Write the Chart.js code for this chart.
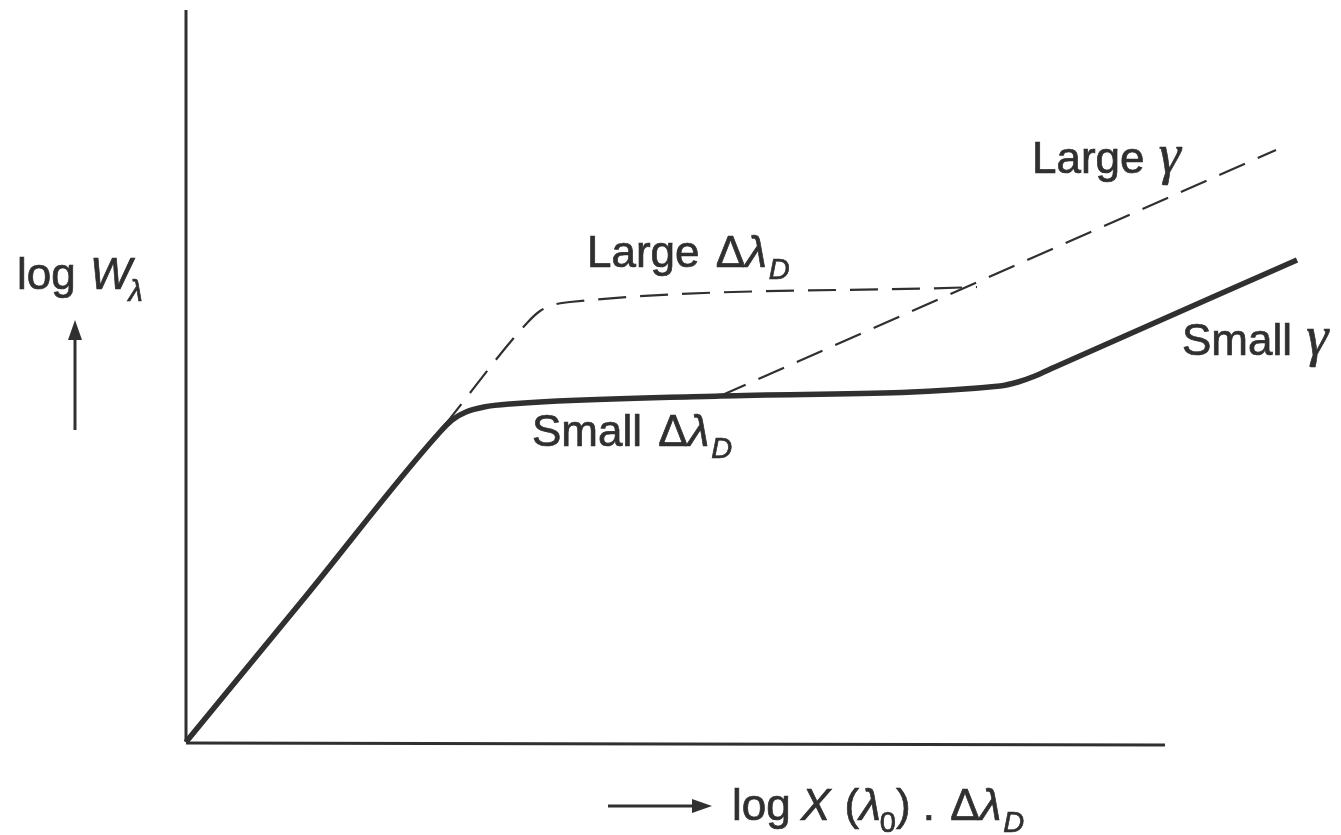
<!DOCTYPE html>
<html>
<head>
<meta charset="utf-8">
<script src="https://cdn.jsdelivr.net/npm/chart.js@4.4.1/dist/chart.umd.min.js"></script>
<style>
  html, body { margin: 0; padding: 0; background: #fff; }
  #wrap { width: 1341px; height: 835px; }
</style>
</head>
<body>
<div id="wrap"><canvas id="c" width="1341" height="835"></canvas></div>
<script>
// curve of growth, schematic (log units, origin at axis corner)
const solidX = [0, 1.20, 2.54, 2.66, 2.80, 2.98, 3.24, 5.34, 8.14, 8.32, 8.49, 8.69, 11.11];
const solidY = [0, 1.46, 3.10, 3.22, 3.30, 3.35, 3.38, 3.46, 3.56, 3.60, 3.66, 3.75, 4.82];

// large Doppler width branch
const dopplerX = [2.58, 3.42, 3.54, 3.67, 3.84, 7.91];
const dopplerY = [3.16, 4.20, 4.31, 4.37, 4.40, 4.55];

// large damping branch
const dampX = [5.34, 10.90];
const dampY = [3.46, 5.92];

// axis extents
const axisXEnd = 9.79;
const axisYEnd = 7.32;

const INK = '#303030';
const SANS = '"Liberation Sans", Arial, sans-serif';
const SERIF = '"Liberation Serif", "Times New Roman", serif';

const toPts = (xs, ys) => xs.map((x, i) => ({ x: x, y: ys[i] }));

// label made of runs {t, it, sub, serif, gap}, drawn left to right
function drawRuns(ctx, x, y, runs) {
    const size = 44;
    let cx = x;
    runs.forEach(r => {
        const s = r.sub ? 29 : (r.serif ? 56 : size);
        ctx.font = (r.it ? 'italic ' : '') + s + 'px ' + (r.serif ? SERIF : SANS);
        const yy = y + (r.sub ? 12 : 0);
        ctx.fillText(r.t, cx, yy);
        ctx.strokeText(r.t, cx, yy);
        cx += ctx.measureText(r.t).width + (r.gap || 0);
    });
}

function arrow(ctx, x1, y1, x2, y2) {
    const a = Math.atan2(y2 - y1, x2 - x1);
    const len = 20, w = 7;
    ctx.beginPath();
    ctx.moveTo(x1, y1);
    ctx.lineTo(x2 - Math.cos(a) * len * 0.8, y2 - Math.sin(a) * len * 0.8);
    ctx.lineWidth = 3;
    ctx.stroke();
    ctx.beginPath();
    ctx.moveTo(x2, y2);
    ctx.lineTo(x2 - Math.cos(a) * len + Math.sin(a) * w, y2 - Math.sin(a) * len - Math.cos(a) * w);
    ctx.lineTo(x2 - Math.cos(a) * len - Math.sin(a) * w, y2 - Math.sin(a) * len + Math.cos(a) * w);
    ctx.closePath();
    ctx.fill();
}

const labels = {
    id: 'labels',
    afterDraw(chart) {
        const ctx = chart.ctx;
        ctx.save();
        ctx.fillStyle = INK;
        ctx.strokeStyle = INK;
        ctx.textBaseline = 'alphabetic';
        ctx.textAlign = 'left';

        arrow(ctx, 75, 430, 75, 320);
        arrow(ctx, 608, 806, 712, 806);

        ctx.lineWidth = 0.7;
        drawRuns(ctx, 17, 289, [{ t: 'log ', gap: 2 }, { t: 'W', it: true, gap: -3 }, { t: 'λ', it: true, sub: true }]);
        drawRuns(ctx, 587, 267, [{ t: 'Large ', gap: 4 }, { t: 'Δ' }, { t: 'λ', it: true, gap: 2 }, { t: 'D', it: true, sub: true }]);
        drawRuns(ctx, 532, 446, [{ t: 'Small ', gap: 4 }, { t: 'Δ' }, { t: 'λ', it: true, gap: 2 }, { t: 'D', it: true, sub: true }]);
        drawRuns(ctx, 1032, 173, [{ t: 'Large ', gap: 2 }, { t: 'γ', it: true, serif: true }]);
        drawRuns(ctx, 1182, 355, [{ t: 'Small ', gap: 2 }, { t: 'γ', it: true, serif: true }]);
        drawRuns(ctx, 732, 820, [
            { t: 'log ', gap: -2 }, { t: 'X', it: true, gap: 2 }, { t: ' (' }, { t: 'λ', it: true, gap: -1 },
            { t: '0', sub: true }, { t: ') . ', gap: 3 }, { t: 'Δ' }, { t: 'λ', it: true, gap: 2 }, { t: 'D', it: true, sub: true }
        ]);
        ctx.restore();
    }
};

new Chart(document.getElementById('c'), {
    type: 'line',
    data: {
        datasets: [
            {
                data: [{ x: 0, y: 0 }, { x: 0, y: axisYEnd }],
                borderColor: INK, borderWidth: 3, pointRadius: 0
            },
            {
                data: [{ x: 0, y: -0.01 }, { x: axisXEnd, y: -0.03 }],
                borderColor: INK, borderWidth: 3, pointRadius: 0
            },
            {
                data: toPts(dopplerX, dopplerY),
                borderColor: INK, borderWidth: 2.2, borderDash: [28, 14],
                cubicInterpolationMode: 'monotone', pointRadius: 0
            },
            {
                data: toPts(dampX, dampY),
                borderColor: INK, borderWidth: 2.2, borderDash: [28, 14],
                pointRadius: 0
            },
            {
                data: toPts(solidX, solidY),
                borderColor: INK, borderWidth: 5.5, borderJoinStyle: 'round',
                cubicInterpolationMode: 'monotone', pointRadius: 0
            }
        ]
    },
    options: {
        responsive: false,
        animation: false,
        events: [],
        layout: { padding: 0 },
        plugins: { legend: { display: false }, tooltip: { enabled: false } },
        scales: {
            x: { type: 'linear', min: -1.86, max: 11.55, display: false },
            y: { type: 'linear', min: -0.93, max: 7.42, display: false }
        }
    },
    plugins: [labels]
});
</script>
</body>
</html>
